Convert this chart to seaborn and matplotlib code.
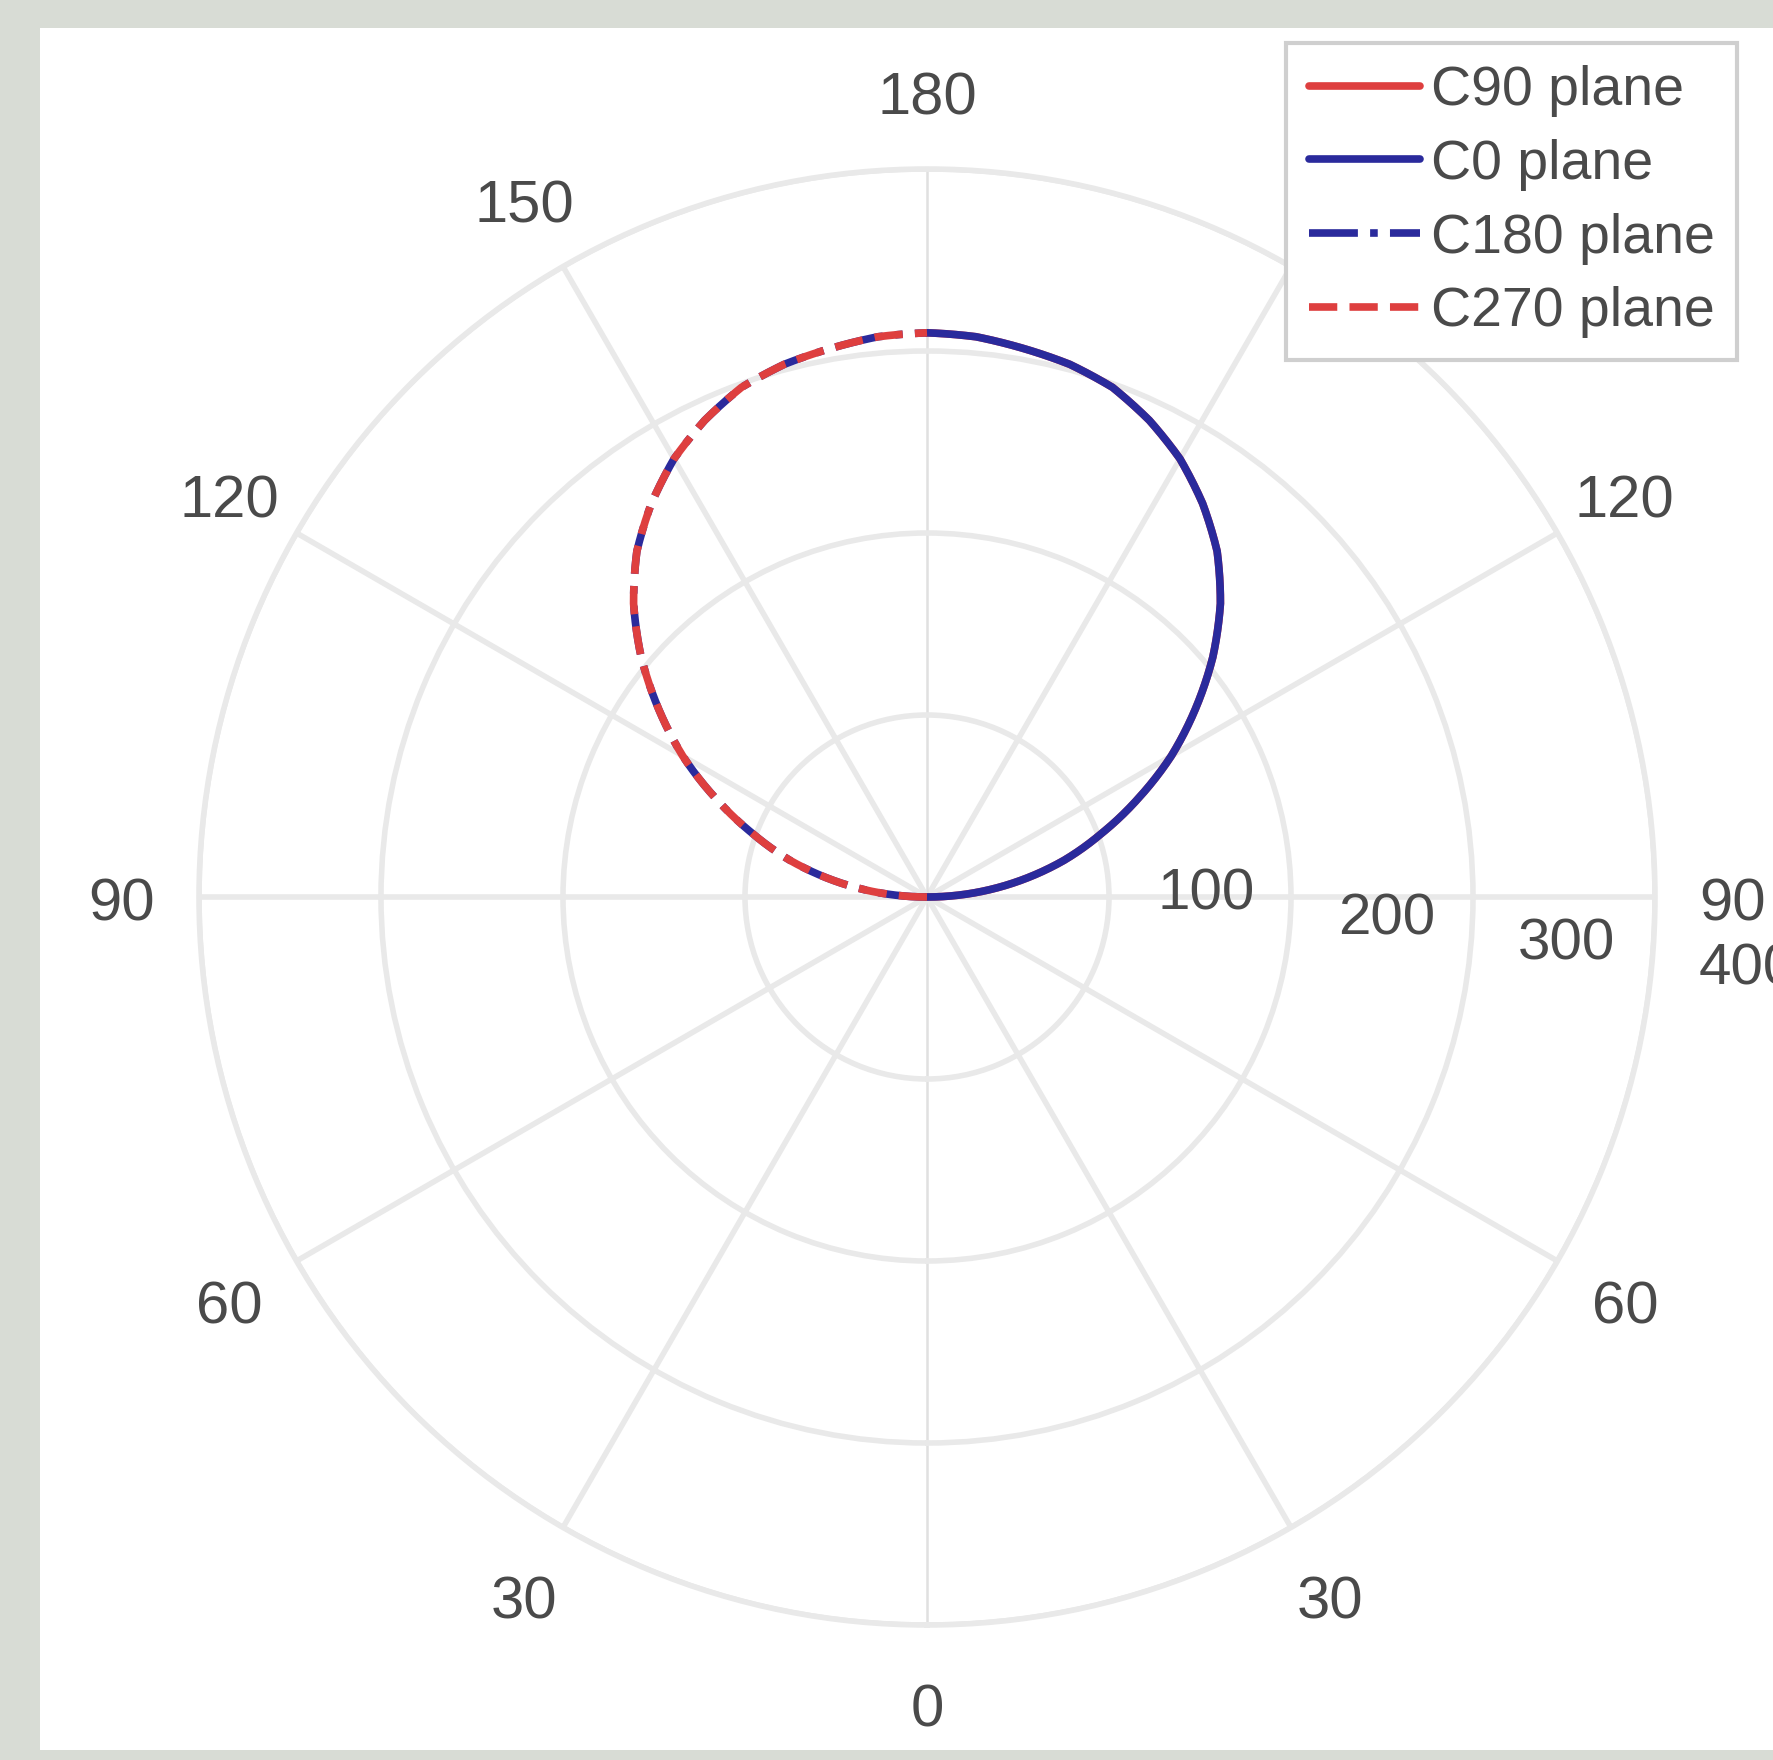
import numpy as np
import pandas as pd
import matplotlib
matplotlib.use("Agg")
import matplotlib.pyplot as plt
from matplotlib.patches import Rectangle
from matplotlib.transforms import ScaledTranslation
import seaborn as sns

# Vertical angle gamma (deg) and luminous intensity per C-plane
gamma_deg = [90, 95, 100, 105, 110, 115, 120, 125, 130, 135,
             140, 145, 150, 155, 160, 165, 170, 175, 180]
c90_plane = [0, 26, 52, 78, 102, 128, 155, 180, 205, 228,
             248, 264, 278, 289, 298, 303, 306, 309, 310]
c0_plane = [0, 26, 52, 78, 102, 128, 155, 180, 205, 228,
            248, 264, 278, 289, 298, 303, 306, 309, 310]
c180_plane = [0, 26, 52, 78, 102, 128, 155, 180, 205, 228,
              248, 264, 278, 289, 298, 303, 306, 309, 310]
c270_plane = [0, 26, 52, 78, 102, 128, 155, 180, 205, 228,
              248, 264, 278, 289, 298, 303, 306, 309, 310]

plane_names = ["C90 plane", "C0 plane", "C180 plane", "C270 plane"]
plane_values = [c90_plane, c0_plane, c180_plane, c270_plane]
plane_side = [1, 1, -1, -1]          # right half / left half of the diagram
plane_colors = ["#de3f3f", "#2a2a9c", "#2a2a9c", "#de3f3f"]
plane_styles = ["-", "-", "-.", "--"]

theta_ticks = [0, 30, 60, 90, 120, 150, 180, 210, 240, 270, 300, 330]
theta_labels = ["0", "30", "60", "90", "120", "150", "180",
                "150", "120", "90", "60", "30"]
r_ticks = [100, 200, 300, 400]
r_labels = ["100", "200", "300", "400"]

sns.set_style("white")
plt.rcParams["font.family"] = ["Liberation Sans", "DejaVu Sans"]

W, H = 1774, 1760
text_gray = "#4a4a4a"
fig = plt.figure(figsize=(W / 100, H / 100), dpi=100, facecolor="#d8dcd5")
fig.add_artist(Rectangle((40 / W, 10 / H), 1 - 40 / W, 1 - 38 / H,
                         transform=fig.transFigure, facecolor="white",
                         edgecolor="none", zorder=-10))

ax = fig.add_axes([199 / W, 135 / H, 1456 / W, 1456 / H], projection="polar")
ax.set_theta_zero_location("S")
ax.set_theta_direction(1)

rows = []
for name, vals, side in zip(plane_names, plane_values, plane_side):
    for g, v in zip(gamma_deg, vals):
        th = g if side > 0 else 360 - g
        rows.append({"plane": name, "theta": np.deg2rad(th), "intensity": v})
df = pd.DataFrame(rows)

for name, color, ls in zip(plane_names, plane_colors, plane_styles):
    sub = df[df["plane"] == name]
    sns.lineplot(x=sub["theta"].to_numpy(), y=sub["intensity"].to_numpy(),
                 ax=ax, color=color, linestyle=ls, lw=5.5, sort=False,
                 label=name, zorder=3)

# follow the polar arc between samples instead of straight chords
for ln in ax.lines:
    ln.get_path()
    ln._path._interpolation_steps = 24

ax.set_xlabel("")
ax.set_ylabel("")
ax.set_ylim(0, 400)

grid_color = "#e9e9e9"
ax.set_thetagrids(theta_ticks, labels=theta_labels)
ax.set_rgrids(r_ticks, labels=[""] * len(r_ticks))
ax.grid(True, color=grid_color, lw=4)
for i, gl in enumerate(ax.xaxis.get_gridlines()):
    if theta_ticks[i] % 180 == 0:
        gl.set_linewidth(1.8)
        gl.set_color("#e0e0e0")
ax.spines["polar"].set_color(grid_color)
ax.spines["polar"].set_linewidth(4)
ax.tick_params(axis="x", pad=49, labelsize=43, labelcolor=text_gray, length=0)
ax.tick_params(axis="y", length=0)

# radial value labels along a ray just below the horizontal
shift = ScaledTranslation(0.99, 0.28, fig.dpi_scale_trans)
for v, lab in zip(r_ticks, r_labels):
    ax.text(np.deg2rad(82.1), v, lab, transform=ax.transData + shift,
            ha="center", va="center", fontsize=42, color=text_gray,
            clip_on=False)

handles, labels = ax.get_legend_handles_labels()
leg = ax.legend(handles, labels, loc="upper right",
                bbox_to_anchor=(1737 / W, 1 - 43 / H),
                bbox_transform=fig.transFigure, borderaxespad=0,
                fontsize=40, handlelength=2.0, handletextpad=0.2,
                labelspacing=0.39, borderpad=0.4, frameon=True,
                fancybox=False, framealpha=1, edgecolor="#cfcfcf")
leg.get_frame().set_linewidth(3)
leg.set_zorder(10)
for t in leg.get_texts():
    t.set_color(text_gray)

# nudge the angle labels slightly downward
down = ScaledTranslation(0, -0.08, fig.dpi_scale_trans)
for lab in ax.xaxis.get_majorticklabels():
    lab.set_transform(lab.get_transform() + down)

fig.savefig("out.png", dpi=100, facecolor=fig.get_facecolor())
